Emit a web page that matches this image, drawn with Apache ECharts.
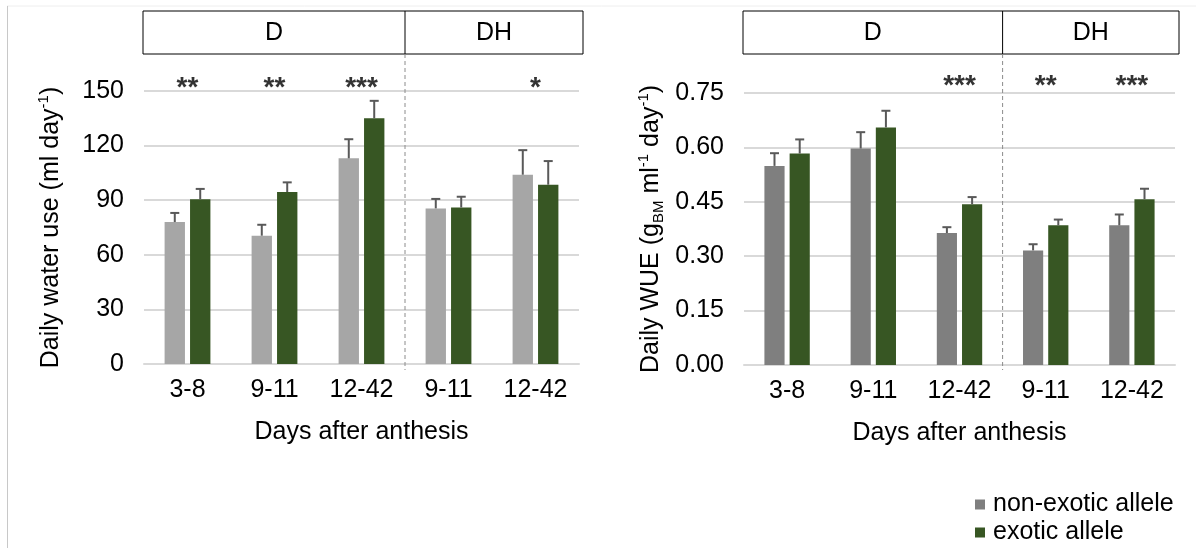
<!DOCTYPE html>
<html>
<head>
<meta charset="utf-8">
<script src="https://cdn.jsdelivr.net/npm/echarts@6/dist/echarts.min.js"></script>
<style>html,body{margin:0;padding:0;background:#fff;}#chart{width:1196px;height:548px;}</style>
</head>
<body>
<div id="chart"></div>
<script>
// ---- data ----
const categories = ['3-8', '9-11', '12-42', '9-11', '12-42'];
const groupNames = ['D', 'DH'];
const groupSizes = [3, 2];
const waterNonExotic = [78, 70.5, 113, 85.5, 104];
const waterNonExoticErr = [5, 6, 10.5, 5.2, 13.5];
const waterExotic = [90.5, 94.5, 135, 86, 98.5];
const waterExoticErr = [5.7, 5.3, 9.6, 5.9, 13];
const wueNonExotic = [0.549, 0.597, 0.364, 0.316, 0.385];
const wueNonExoticErr = [0.035, 0.045, 0.016, 0.017, 0.03];
const wueExotic = [0.583, 0.655, 0.443, 0.385, 0.457];
const wueExoticErr = [0.039, 0.046, 0.02, 0.016, 0.029];
const sigWater = ['**', '**', '***', '', '*'];
const sigWue = ['', '', '***', '**', '***'];
const waterAxis = { min: 0, max: 150, interval: 30 };
const wueAxis = { min: 0, max: 0.75, interval: 0.15 };

// ---- style ----
const FONT = "'Liberation Sans', Arial, Helvetica, sans-serif";
const FS = 25;
const C_NON_L = '#a6a6a6';
const C_NON_R = '#7f7f7f';
const C_EXO = '#375623';
const C_GRID = '#d9d9d9';
const BAR_FRAC = 0.234;
const GAP_FRAC = 0.25;

const chart = echarts.init(document.getElementById('chart'), null, { renderer: 'canvas' });

function errSeries(name, xi, yi, vals, errs, side) {
  return {
    type: 'custom', name: name + '_err', xAxisIndex: xi, yAxisIndex: yi, silent: true, z: 5,
    data: vals.map((v, i) => [i, v, v + errs[i]]),
    renderItem: function (params, api) {
      const i = api.value(0);
      const base = api.coord([i, api.value(1)]);
      const top = api.coord([i, api.value(2)]);
      const band = api.size([1, 0])[0];
      const bw = band * BAR_FRAC;
      const gap = bw * GAP_FRAC;
      const x = base[0] + side * (bw + gap) / 2;
      const st = { stroke: '#595959', lineWidth: 2 };
      return {
        type: 'group',
        children: [
          { type: 'line', shape: { x1: x, y1: base[1], x2: x, y2: top[1] }, style: st },
          { type: 'line', shape: { x1: x - 4.5, y1: top[1], x2: x + 4.5, y2: top[1] }, style: st }
        ]
      };
    }
  };
}

function sigSeries(xi, yi, sig, yval) {
  return {
    type: 'scatter', xAxisIndex: xi, yAxisIndex: yi, symbolSize: 0, silent: true, clip: false,
    data: sig.map((s, i) => ({ value: [i, yval], label: { formatter: s } })),
    label: {
      show: true, position: 'inside', color: '#000', fontFamily: FONT,
      fontSize: 28, fontWeight: 'bold'
    }
  };
}

const nameRich = {
  sup: { fontSize: 15, fontFamily: FONT, color: '#000', verticalAlign: 'top', lineHeight: 30 },
  sub: { fontSize: 15, fontFamily: FONT, color: '#000', verticalAlign: 'bottom', lineHeight: 30 }
};

function xAxisOpt(gi) {
  return {
    type: 'category', gridIndex: gi, data: categories,
    axisLine: { lineStyle: { color: C_GRID, width: 2 } },
    axisTick: { show: false },
    axisLabel: { interval: 0, color: '#000', fontSize: FS, fontFamily: FONT, margin: 14 },
    name: 'Days after anthesis', nameLocation: 'middle', nameGap: 56,
    nameTextStyle: { color: '#000', fontSize: FS, fontFamily: FONT, verticalAlign: 'top' }
  };
}

function yAxisOpt(gi, ax, name, decimals) {
  return {
    type: 'value', gridIndex: gi, min: ax.min, max: ax.max, interval: ax.interval,
    axisLine: { show: false }, axisTick: { show: false },
    splitLine: { lineStyle: { color: C_GRID, width: 2 } },
    axisLabel: {
      color: '#000', fontSize: FS, fontFamily: FONT, margin: 20,
      formatter: v => v.toFixed(decimals)
    },
    name: name, nameLocation: 'middle', nameRotate: 90, nameGap: 78,
    nameTextStyle: { color: '#000', fontSize: FS, fontFamily: FONT, lineHeight: 30, rich: nameRich }
  };
}

const option = {
  animation: false,
  backgroundColor: '#fff',
  textStyle: { fontFamily: FONT },
  grid: [
    { left: 144, width: 435, top: 91, height: 273 },
    { left: 744, width: 431, top: 93, height: 272 }
  ],
  xAxis: [xAxisOpt(0), xAxisOpt(1)],
  yAxis: [
    yAxisOpt(0, waterAxis, 'Daily water use (ml day{sup|-1})', 0),
    yAxisOpt(1, wueAxis, 'Daily WUE (g{sub|BM} ml{sup|-1} day{sup|-1})', 2)
  ],
  legend: {
    orient: 'vertical', left: 975, top: 492, bottom: 0, padding: 0, itemWidth: 10, itemHeight: 10, itemGap: 3,
    icon: 'rect',
    textStyle: { color: '#000', fontSize: FS, lineHeight: 25, fontFamily: FONT, padding: [0, 0, 0, 3] },
    data: [
      { name: 'non-exotic allele', itemStyle: { color: C_NON_R } },
      { name: 'exotic allele', itemStyle: { color: C_EXO } }
    ]
  },
  series: [
    { type: 'bar', name: 'non-exotic allele', xAxisIndex: 0, yAxisIndex: 0, data: waterNonExotic,
      barWidth: (BAR_FRAC * 100) + '%', barGap: (GAP_FRAC * 100) + '%', itemStyle: { color: C_NON_L } },
    { type: 'bar', name: 'exotic allele', xAxisIndex: 0, yAxisIndex: 0, data: waterExotic,
      barWidth: (BAR_FRAC * 100) + '%', barGap: (GAP_FRAC * 100) + '%', itemStyle: { color: C_EXO } },
    { type: 'bar', name: 'non-exotic allele', xAxisIndex: 1, yAxisIndex: 1, data: wueNonExotic,
      barWidth: (BAR_FRAC * 100) + '%', barGap: (GAP_FRAC * 100) + '%', itemStyle: { color: C_NON_R } },
    { type: 'bar', name: 'exotic allele', xAxisIndex: 1, yAxisIndex: 1, data: wueExotic,
      barWidth: (BAR_FRAC * 100) + '%', barGap: (GAP_FRAC * 100) + '%', itemStyle: { color: C_EXO } },
    errSeries('wn', 0, 0, waterNonExotic, waterNonExoticErr, -1),
    errSeries('we', 0, 0, waterExotic, waterExoticErr, 1),
    errSeries('un', 1, 1, wueNonExotic, wueNonExoticErr, -1),
    errSeries('ue', 1, 1, wueExotic, wueExoticErr, 1),
    sigSeries(0, 0, sigWater, 151.6),
    sigSeries(1, 1, sigWue, 0.768)
  ]
};
chart.setOption(option);

// ---- header boxes and group dividers, positioned from the axes ----
function panelGraphics(gi, boxTop, boxBottom, dashBottom) {
  const els = [];
  const rect = chart.getModel().getComponent('grid', gi).coordinateSystem.getRect();
  const x0 = rect.x - 1, x1 = rect.x + rect.width + 4;
  let start = 0;
  const bounds = [x0];
  groupSizes.forEach((n, g) => {
    const endIdx = start + n - 1;
    if (g < groupSizes.length - 1) {
      const a = chart.convertToPixel({ xAxisIndex: gi }, endIdx);
      const b = chart.convertToPixel({ xAxisIndex: gi }, endIdx + 1);
      bounds.push((a + b) / 2);
    }
    start += n;
  });
  bounds.push(x1);
  els.push({ type: 'rect', shape: { x: x0, y: boxTop, width: x1 - x0, height: boxBottom - boxTop },
    style: { fill: '#fff', stroke: '#000', lineWidth: 1 }, z: 10 });
  for (let k = 1; k < bounds.length - 1; k++) {
    els.push({ type: 'line', shape: { x1: bounds[k], y1: boxTop, x2: bounds[k], y2: boxBottom },
      style: { stroke: '#000', lineWidth: 1 }, z: 11 });
    els.push({ type: 'line', shape: { x1: bounds[k], y1: boxBottom, x2: bounds[k], y2: dashBottom },
      style: { stroke: '#8c8c8c', lineWidth: 1, lineDash: [4, 3] }, z: 11 });
  }
  groupNames.forEach((g, k) => {
    els.push({ type: 'text', x: (bounds[k] + bounds[k + 1]) / 2, y: (boxTop + boxBottom) / 2 + 1,
      style: { text: g, fill: '#000', font: FS + 'px ' + FONT, align: 'center', verticalAlign: 'middle' }, z: 12 });
  });
  return els;
}

const graphics = [
  { type: 'line', shape: { x1: 7, y1: 6, x2: 1196, y2: 6 }, style: { stroke: '#eeeeee', lineWidth: 1 } },
  { type: 'line', shape: { x1: 7.5, y1: 6, x2: 7.5, y2: 548 }, style: { stroke: '#c8c8c8', lineWidth: 1 } }
].concat(panelGraphics(0, 11, 54, 370), panelGraphics(1, 11, 54, 370));
chart.setOption({ graphic: graphics });
</script>
</body>
</html>
